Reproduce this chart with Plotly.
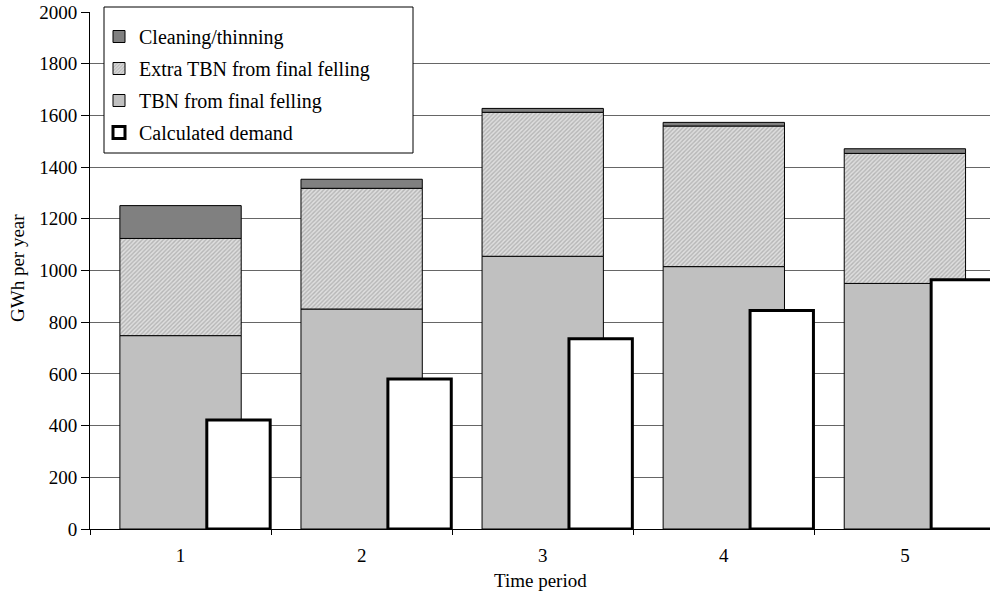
import numpy as np
import plotly.graph_objects as go

periods = [1, 2, 3, 4, 5]
tbn_final = [748, 851, 1055, 1015, 950]
extra_tbn = [376, 467, 557, 544, 503]
cleaning = [127, 35, 15, 14, 18]
demand = [422, 580, 736, 845, 964]
y_ticks = [0, 200, 400, 600, 800, 1000, 1200, 1400, 1600, 1800, 2000]

FONT = "Liberation Serif, Times New Roman, serif"
FS = 19
LFS = 20
base_extra = np.array(tbn_final)
base_clean = base_extra + np.array(extra_tbn)

W = 0.67
DW = 0.35
DOFF = 0.32 - DW / 2

# body margin removed via post_script: figure spans (0,0)-(990,595)
FW, FH = 990, 595
L, R, T, B = 90, 0, 12, 595 - 529
PW, PH = FW - L - R, FH - T - B

def px_x(p):  # page px -> paper
    return (p - L) / PW

def px_y(p):
    return (FH - B - p) / PH

fig = go.Figure()
fig.add_trace(go.Bar(
    x=periods, y=tbn_final, name="TBN from final felling", width=W,
    marker=dict(color="#c0c0c0", line=dict(color="black", width=1)),
    legendrank=3, legendgroup="c",
))
fig.add_trace(go.Bar(
    x=periods, y=extra_tbn, base=base_extra, name="Extra TBN from final felling", width=W,
    marker=dict(color="white", line=dict(color="black", width=1),
                pattern=dict(shape="/", fgcolor="#8c8c8c", bgcolor="#dedede", size=3, solidity=0.45)),
    legendrank=2, legendgroup="b",
))
fig.add_trace(go.Bar(
    x=periods, y=cleaning, base=base_clean, name="Cleaning/thinning", width=W,
    marker=dict(color="#808080", line=dict(color="black", width=1)),
    legendrank=1, legendgroup="a",
))
fig.add_trace(go.Bar(
    x=periods, y=demand, name="Calculated demand", width=DW, offset=DOFF,
    marker=dict(color="white", line=dict(color="black", width=3)),
    legendrank=4, legendgroup="d",
))

fig.update_layout(
    width=FW, height=FH,
    margin=dict(l=L, r=R, t=T, b=B),
    barmode="overlay",
    plot_bgcolor="white", paper_bgcolor="white",
    font=dict(family=FONT, size=FS, color="black"),
    showlegend=True,
    legend=dict(
        x=px_x(99), y=px_y(17), xanchor="left", yanchor="top",
        bgcolor="rgba(0,0,0,0)", borderwidth=0,
        font=dict(family=FONT, size=LFS, color="black"),
        tracegroupgap=3,
    ),
    shapes=[dict(
        type="rect", xref="paper", yref="paper", layer="above",
        x0=px_x(104), x1=px_x(413), y0=px_y(153), y1=px_y(7),
        fillcolor="white", line=dict(color="black", width=1),
    )],
    annotations=[
        dict(text="GWh per year", xref="paper", yref="paper", x=px_x(17), y=px_y(268),
             textangle=-90, showarrow=False, xanchor="center", yanchor="middle",
             font=dict(family=FONT, size=FS)),
        dict(text="Time period", xref="paper", yref="paper", x=px_x(540), y=px_y(580),
             showarrow=False, xanchor="center", yanchor="middle",
             font=dict(family=FONT, size=FS)),
    ],
    xaxis=dict(
        range=[0.5, 5.47], tickvals=periods, ticktext=[str(p) for p in periods],
        ticks="outside", ticklen=9, tickcolor="rgba(0,0,0,0)",
        showgrid=False, zeroline=False, automargin=False,
        showline=True, linecolor="black", linewidth=1,
        tickfont=dict(family=FONT, size=FS),
        minor=dict(tick0=0.5, dtick=1, ticks="outside", ticklen=5, tickcolor="black", showgrid=False),
    ),
    yaxis=dict(
        range=[0, 2000], tickvals=y_ticks, ticks="outside", ticklen=8, tickcolor="black",
        showgrid=True, gridcolor="#666666", gridwidth=1, zeroline=False, automargin=False,
        showline=True, linecolor="black", linewidth=1,
        ticklabeloverflow="allow",
        tickfont=dict(family=FONT, size=FS),
    ),
)

fig.write_html("out.html", config={"displayModeBar": False},
               post_script="document.body.style.margin='0';")
